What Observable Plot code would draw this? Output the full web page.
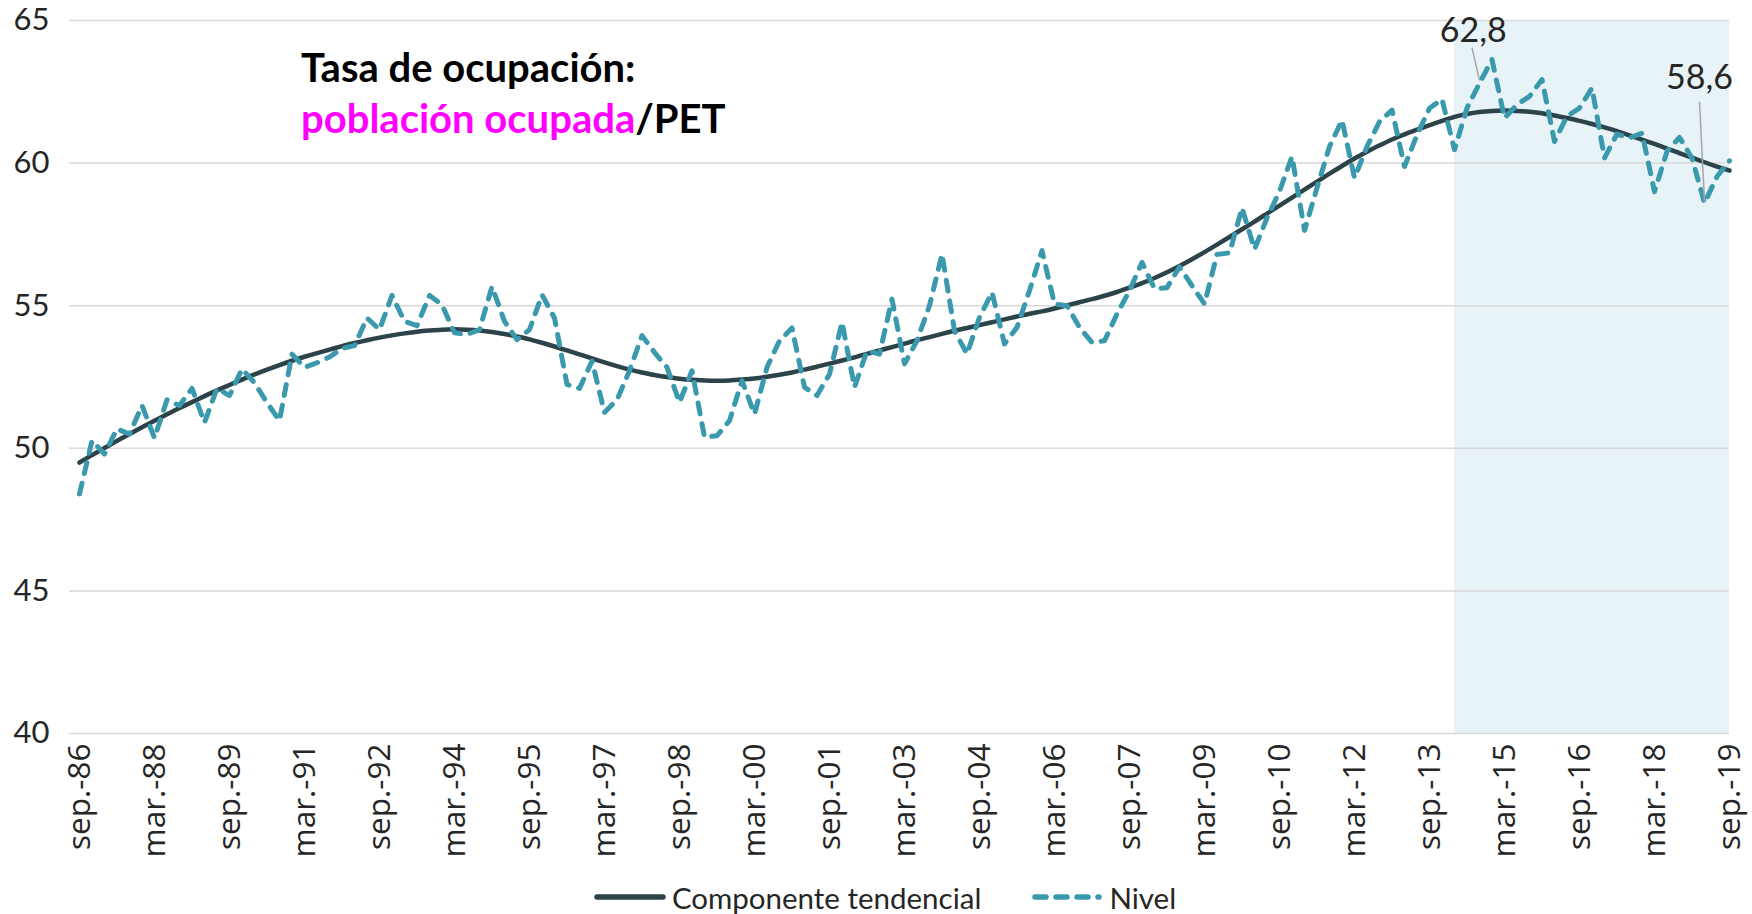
<!DOCTYPE html>
<html><head><meta charset="utf-8">
<script src="https://cdn.jsdelivr.net/npm/d3@7"></script>
<script src="https://cdn.jsdelivr.net/npm/@observablehq/plot@0.6"></script>
<style>
body{margin:0;background:#fff;font-family:Lato,"Open Sans",sans-serif;}
#wrap{position:relative;width:1752px;}
#title{position:absolute;left:301px;top:42px;font-weight:700;font-size:40px;line-height:51px;color:#000;font-family:Lato,sans-serif;}
#legend{display:flex;justify-content:center;align-items:center;height:40px;font-size:29.5px;color:#262626;padding-left:18px;margin-top:5px;}
#legend .item{display:flex;align-items:center;margin:0 25px;}
#legend svg{margin-right:6px;}
</style></head><body>
<div id="wrap"><div id="chart"></div>
<div id="title">Tasa de ocupación:<br><span style="color:#ff00ff">población ocupada</span>/PET</div></div>
<div id="legend"></div>
<script>
// Quarterly series, sep-86 .. sep-19 (133 quarters)
const nivel = [
48.4,50.27,49.8,50.68,50.5,51.5,50.36,51.7,51.5,52.1,
50.9,52.1,51.85,52.78,52.3,51.6,50.97,53.3,52.84,53.0,
53.2,53.5,53.6,54.57,54.16,55.36,54.45,54.3,55.36,55.03,
54.05,53.99,54.16,55.67,54.45,53.81,54.16,55.38,54.57,52.24,
52.1,53.06,51.26,51.7,52.72,53.95,53.36,52.84,51.61,52.72,
50.39,50.44,50.97,52.37,51.2,52.84,53.77,54.22,52.14,51.85,
52.6,54.42,52.14,53.42,53.3,55.23,52.96,53.77,55.0,56.81,
54.12,53.31,54.59,55.47,53.66,54.24,55.53,56.93,55.06,55.0,
54.24,53.71,53.77,54.71,55.53,56.52,55.6,55.63,56.36,55.7,
55.06,56.8,56.85,58.43,56.98,58.08,59.01,60.23,57.64,59.13,
60.58,61.51,59.48,60.58,61.45,61.86,59.88,60.99,61.92,62.24,
60.47,61.93,62.8,63.63,61.58,62.05,62.34,62.93,60.76,61.64,
61.93,62.63,60.18,61.02,60.88,61.05,59.0,60.41,60.9,60.18,
58.6,59.53,60.08
];
const tendencia = [
49.50,49.76,50.01,50.26,50.50,50.74,50.97,51.19,51.41,51.62,
51.83,52.03,52.22,52.41,52.59,52.76,52.92,53.07,53.21,53.34,
53.46,53.58,53.69,53.79,53.88,53.96,54.03,54.09,54.13,54.16,
54.17,54.16,54.13,54.08,54.01,53.92,53.82,53.70,53.57,53.43,
53.29,53.15,53.01,52.88,52.76,52.66,52.57,52.50,52.44,52.40,
52.38,52.37,52.38,52.41,52.45,52.51,52.58,52.66,52.76,52.86,
52.97,53.08,53.19,53.31,53.43,53.55,53.67,53.79,53.90,54.01,
54.12,54.22,54.32,54.42,54.52,54.62,54.72,54.80,54.90,55.01,
55.12,55.23,55.35,55.48,55.63,55.79,55.97,56.17,56.39,56.63,
56.88,57.14,57.41,57.68,57.95,58.23,58.51,58.79,59.07,59.35,
59.63,59.90,60.16,60.40,60.62,60.83,61.01,61.17,61.33,61.48,
61.62,61.72,61.79,61.83,61.84,61.83,61.80,61.75,61.67,61.58,
61.48,61.37,61.25,61.12,60.97,60.82,60.67,60.51,60.35,60.19,
60.03,59.88,59.74
];
const xTickIdx = [0,6,12,18,24,30,36,42,48,54,60,66,72,78,84,90,96,102,108,114,120,126,132];
const xTickLabels = ["sep.-86","mar.-88","sep.-89","mar.-91","sep.-92","mar.-94","sep.-95","mar.-97","sep.-98","mar.-00","sep.-01","mar.-03","sep.-04","mar.-06","sep.-07","mar.-09","sep.-10","mar.-12","sep.-13","mar.-15","sep.-16","mar.-18","sep.-19"];
const yTicks = [40,45,50,55,60,65];
const shadeFrom = 110; // mar-14
const shadeTo = 132;
const annotIdx = [112, 130];
const annotVal = [62.8, 58.6];
const annotLabel = ["62,8", "58,6"];
const seriesNames = ["Componente tendencial", "Nivel"];

const C_TREND = "#2c434a", C_NIVEL = "#3a99ad";
const data = nivel.map((v, i) => ({i, nivel: v, trend: tendencia[i]}));
const labelMap = new Map(xTickIdx.map((d, k) => [d, xTickLabels[k]]));
// annotation leader geometry (offsets in data units)
const leader = [{dx0: -0.6, dy0: 1.25, dx1: 0, dy1: 0.1, tdx: -0.5, tdy: 1.45},
                {dx0: -0.4, dy0: 3.55, dx1: 0, dy1: 0.05, tdx: -0.4, tdy: 4.0}];
const ann = annotIdx.map((d, k) => ({
  x1: d + leader[k].dx0, y1: annotVal[k] + leader[k].dy0,
  x2: d + leader[k].dx1, y2: annotVal[k] + leader[k].dy1,
  tx: d + leader[k].tdx, ty: annotVal[k] + leader[k].tdy, label: annotLabel[k]
}));

const chart = Plot.plot({
  width: 1752, height: 872,
  marginLeft: 79, marginRight: 23, marginTop: 20, marginBottom: 139,
  style: {fontFamily: "Lato, 'Open Sans', sans-serif", color: "#262626", background: "#fff"},
  x: {domain: [0, 132], axis: null},
  y: {domain: [40, 65], axis: null},
  marks: [
    Plot.rect([{a: shadeFrom, b: shadeTo}], {x1: "a", x2: "b", y1: 40, y2: 65, fill: "#e7f3f6"}),
    Plot.ruleY(yTicks, {x1: -0.8, x2: 132, stroke: "#d9d9d9", strokeWidth: 1.5}),
    Plot.axisY(yTicks, {tickSize: 0, tickPadding: 30, fontSize: 31, fill: "#262626"}),
    Plot.axisX(xTickIdx, {tickSize: 0, tickPadding: 10, tickRotate: -90, fontSize: 31.5, fill: "#262626",
      tickFormat: d => labelMap.get(d)}),
    Plot.line(data, {x: "i", y: "trend", stroke: C_TREND, strokeWidth: 4.5, curve: "natural"}),
    Plot.line(data, {x: "i", y: "nivel", stroke: C_NIVEL, strokeWidth: 5,
      strokeDasharray: "11,10", strokeLinecap: "round", strokeLinejoin: "round"}),
    Plot.link(ann, {x1: "x1", y1: "y1", x2: "x2", y2: "y2", stroke: "#a6a6a6", strokeWidth: 1.5}),
    Plot.text(ann, {x: "tx", y: "ty", text: "label", lineAnchor: "bottom", fontSize: 34, fill: "#262626"})
  ]
});
document.getElementById("chart").appendChild(chart);
chart.querySelectorAll("text").forEach(t => {
  if (xTickLabels.includes(t.textContent)) t.style.fontFamily = "'Open Sans', sans-serif";
});

const lg = document.getElementById("legend");
lg.innerHTML =
  `<span class="item"><svg width="72" height="12"><line x1="3" y1="6" x2="69" y2="6" stroke="${C_TREND}" stroke-width="5.5" stroke-linecap="round"/></svg>${seriesNames[0]}</span>` +
  `<span class="item"><svg width="72" height="12"><line x1="4" y1="6" x2="68" y2="6" stroke="${C_NIVEL}" stroke-width="5.5" stroke-dasharray="11,10" stroke-linecap="round"/></svg>${seriesNames[1]}</span>`;
</script>
</body></html>
